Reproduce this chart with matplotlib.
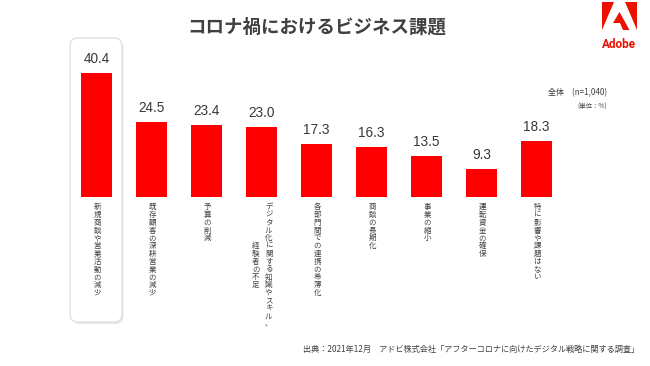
import matplotlib
matplotlib.use("Agg")
import matplotlib.pyplot as plt
from matplotlib.patches import FancyBboxPatch, Polygon

plt.rcParams['font.family'] = ['Noto Sans CJK JP', 'DejaVu Sans']

title = "コロナ禍におけるビジネス課題"
categories = [
    "新規商談や営業活動の減少",
    "既存顧客の深耕営業の減少",
    "予算の削減",
    "デジタル化に関する知識やスキル、\n経験者の不足",
    "各部門間での連携の希薄化",
    "商談の長期化",
    "事業の縮小",
    "運転資金の確保",
    "特に影響や課題はない",
]
values = [40.4, 24.5, 23.4, 23.0, 17.3, 16.3, 13.5, 9.3, 18.3]
sample_note = "全体　(n=1,040)"
unit_note = "(単位：%)"
source = "出典：2021年12月　アドビ株式会社「アフターコロナに向けたデジタル戦略に関する調査」"

W, H = 650, 366
fig = plt.figure(figsize=(W / 100, H / 100), dpi=100)
fig.patch.set_facecolor('white')

def fx(x):
    return x / W

def fy(y):
    return 1 - y / H

# highlight box around the first category (pixel coords)
shadow = FancyBboxPatch((71.5, H - 324), 52, 284, boxstyle="round,pad=0,rounding_size=8",
                        transform=None, facecolor='#e8e8e8', edgecolor='none', zorder=-2)
fig.patches.append(shadow)
box = FancyBboxPatch((70, H - 322), 52, 284, boxstyle="round,pad=0,rounding_size=8",
                     transform=None, facecolor='white', edgecolor='#e0e0e0', linewidth=1.0, zorder=-1)
fig.patches.append(box)

ax = fig.add_axes([fx(69), fy(197), 495 / W, 160 / H])
ax.patch.set_visible(False)
x = list(range(len(values)))
ax.bar(x, values, width=0.56, color='#FF0000', zorder=2)
ax.set_xlim(-0.5, len(values) - 0.5)
ax.set_ylim(0, 160 / 3.06)
for s in ax.spines.values():
    s.set_visible(False)
ax.set_xticks([])
ax.set_yticks([])

for i, v in enumerate(values):
    ax.annotate(f"{v:.1f}", xy=(i, v), xytext=(0, 5), textcoords='offset points',
                ha='center', va='bottom', fontsize=9.8, color='#383838',
                family=['Liberation Sans', 'DejaVu Sans'])

# vertical category labels (each character stacked)
pitch = 7.8 * 0.72  # points
colgap = 13 * 0.72
for i, lab in enumerate(categories):
    cols = lab.split("\n")
    maxlen = max(len(c) for c in cols)
    ncol = len(cols)
    for ci, col in enumerate(cols):
        xoff = ((ncol - 1) / 2 - ci) * colgap
        yoff0 = (maxlen - len(col)) / 2 * pitch
        for k, ch in enumerate(col):
            ax.annotate(ch, xy=(i, 0), xytext=(xoff + 0.5, -4.5 - yoff0 - k * pitch - pitch / 2),
                        textcoords='offset points', ha='center', va='center',
                        fontsize=5.4, color='#404040', annotation_clip=False)

fig.text(fx(317), fy(27), title, ha='center', va='center', fontsize=13.3,
         fontweight='bold', color='#404040')
fig.text(fx(607), fy(93), sample_note, ha='right', va='center', fontsize=5.8, color='#404040')
fig.text(fx(607), fy(107), unit_note, ha='right', va='center', fontsize=4.6, color='#404040')
fig.text(fx(639), fy(349), source, ha='right', va='center', fontsize=5.9, color='#404040')

# Adobe logo
red = '#EB1000'
def poly(pts):
    p = Polygon([(fx(a), fy(b)) for a, b in pts], closed=True, transform=fig.transFigure,
                facecolor=red, edgecolor='none')
    fig.patches.append(p)
poly([(602, 2), (614, 2), (602, 30)])
poly([(625, 2), (637, 2), (637, 30)])
poly([(619.5, 12), (629.5, 30), (623, 30), (620, 23), (613, 23)])
fig.text(fx(619.5), fy(44), "Adobe", ha='center', va='center', fontsize=8.5,
         fontweight='bold', color=red, family=['Roboto', 'DejaVu Sans'])

fig.savefig("out.png", dpi=100, facecolor='white')
